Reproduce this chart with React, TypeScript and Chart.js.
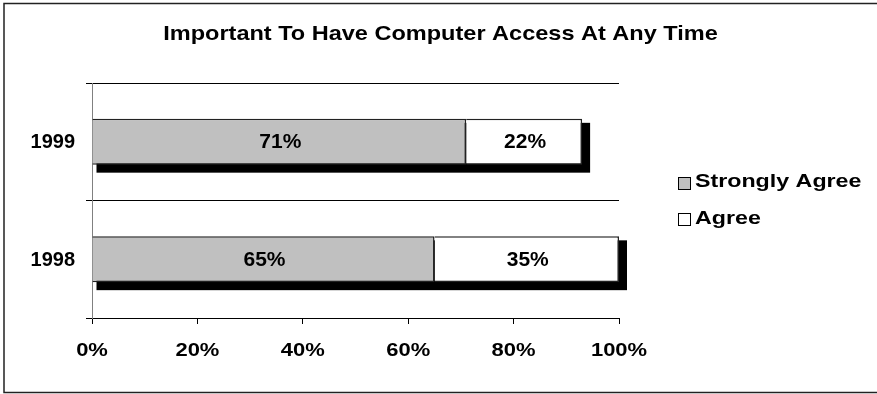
import React, { useEffect, useRef } from "react";
import { Chart, registerables } from "chart.js";
Chart.register(...registerables);

const years = ["1999", "1998"];
const stronglyAgree = [71, 65];
const agree = [22, 35];
const seriesNames = ["Strongly Agree", "Agree"];
const seriesColors = ["#C0C0C0", "#FFFFFF"];
const titleText = "Important To Have Computer Access At Any Time";

const FONT = '"Liberation Sans", Arial, sans-serif';

function drawText(
  ctx: CanvasRenderingContext2D,
  text: string,
  x: number,
  y: number,
  size: number,
  sx: number,
  align: CanvasTextAlign
) {
  ctx.save();
  ctx.translate(x, y);
  ctx.scale(sx, 1);
  ctx.font = "bold " + size + "px " + FONT;
  ctx.textAlign = align;
  ctx.textBaseline = "alphabetic";
  ctx.fillStyle = "#000";
  ctx.fillText(text, 0, 0);
  ctx.restore();
}

export default function App() {
  const ref = useRef<HTMLCanvasElement>(null);
  useEffect(() => {
    document.body.style.margin = "0";
    const canvas = ref.current!;

    const framePlugin = {
      id: "frame",
      beforeDraw(chart: any) {
        const ctx = chart.ctx;
        ctx.save();
        ctx.fillStyle = "#fff";
        ctx.fillRect(0, 0, chart.width, chart.height);
        ctx.restore();
      },
      beforeDatasetsDraw(chart: any) {
        const ctx = chart.ctx;
        const m0 = chart.getDatasetMeta(0);
        const mL = chart.getDatasetMeta(chart.data.datasets.length - 1);
        ctx.save();
        ctx.fillStyle = "#000";
        m0.data.forEach((el: any, i: number) => {
          const a = el.getProps(["x", "y", "base", "height"], true);
          const b = mL.data[i].getProps(["x", "y", "base", "height"], true);
          const left = a.base;
          const right = b.x;
          const top = a.y - a.height / 2;
          const bottom = a.y + a.height / 2;
          ctx.fillRect(left + 4, top + 4, right - left + 4, bottom - top + 4);
        });
        ctx.restore();
      },
      afterDatasetsDraw(chart: any) {
        const ctx = chart.ctx;
        chart.data.datasets.forEach((ds: any, di: number) => {
          const meta = chart.getDatasetMeta(di);
          meta.data.forEach((el: any, i: number) => {
            const p = el.getProps(["x", "y", "base"], true);
            drawText(ctx, ds.data[i] + "%", (p.x + p.base) / 2 + 1, p.y + 6.5, 20, 1.05, "center");
          });
        });
      },
      afterDraw(chart: any) {
        const ctx = chart.ctx;
        ctx.save();
        // border
        ctx.strokeStyle = "#222";
        ctx.lineWidth = 1.5;
        ctx.strokeRect(4, 3.5, 890, 389);
        ctx.restore();
        // title
        drawText(ctx, titleText, 440.5, 40, 21, 1.12, "center");
        // axis labels
        const xs = chart.scales.x;
        xs.ticks.forEach((t: any, i: number) => {
          drawText(ctx, t.value + "%", xs.getPixelForTick(i), 356, 18, 1.22, "center");
        });
        const ysc = chart.scales.y;
        chart.data.labels.forEach((lab: string, i: number) => {
          drawText(ctx, lab, 75, ysc.getPixelForTick(i) + 6.5, 20, 1.0, "right");
        });
        // legend
        const boxTops = [177, 213];
        const baselines = [187, 224];
        seriesNames.forEach((name, i) => {
          ctx.save();
          ctx.fillStyle = seriesColors[i];
          ctx.fillRect(678.5, boxTops[i] + 0.5, 12, 12);
          ctx.strokeStyle = "#000";
          ctx.lineWidth = 1;
          ctx.strokeRect(678.5, boxTops[i] + 0.5, 12, 12);
          ctx.restore();
          drawText(ctx, name, 695, baselines[i], 18, 1.29, "left");
        });
      },
    };

    const chart = new Chart(canvas, {
      type: "bar",
      data: {
        labels: years,
        datasets: [
          {
            label: seriesNames[0],
            data: stronglyAgree,
            backgroundColor: seriesColors[0],
            borderColor: "#222",
            borderWidth: 1.5,
            barPercentage: 0.39,
            categoryPercentage: 1,
          },
          {
            label: seriesNames[1],
            data: agree,
            backgroundColor: seriesColors[1],
            borderColor: "#222",
            borderWidth: 1.5,
            barPercentage: 0.39,
            categoryPercentage: 1,
          },
        ],
      },
      options: {
        indexAxis: "y",
        animation: false,
        responsive: false,
        devicePixelRatio: 1,
        layout: { padding: { left: 0, top: 83, right: 258, bottom: 0 } },
        plugins: {
          legend: { display: false },
          title: { display: false },
          tooltip: { enabled: false },
        },
        scales: {
          x: {
            stacked: true,
            min: 0,
            max: 100,
            ticks: { stepSize: 20, display: false },
            grid: { drawOnChartArea: false, color: "#000", tickLength: 6 },
            border: { color: "#000" },
            afterFit: (s: any) => {
              s.height = 76;
            },
          },
          y: {
            stacked: true,
            ticks: { display: false },
            grid: { offset: true, color: "#000", tickLength: 6 },
            border: { color: "#808080" },
            afterFit: (s: any) => {
              s.width = 92;
            },
          },
        },
      },
      plugins: [framePlugin],
    });
    return () => chart.destroy();
  }, []);
  return (
    <div style={{ width: 877, height: 394 }}>
      <canvas ref={ref} width={877} height={394} style={{ display: "block" }} />
    </div>
  );
}
